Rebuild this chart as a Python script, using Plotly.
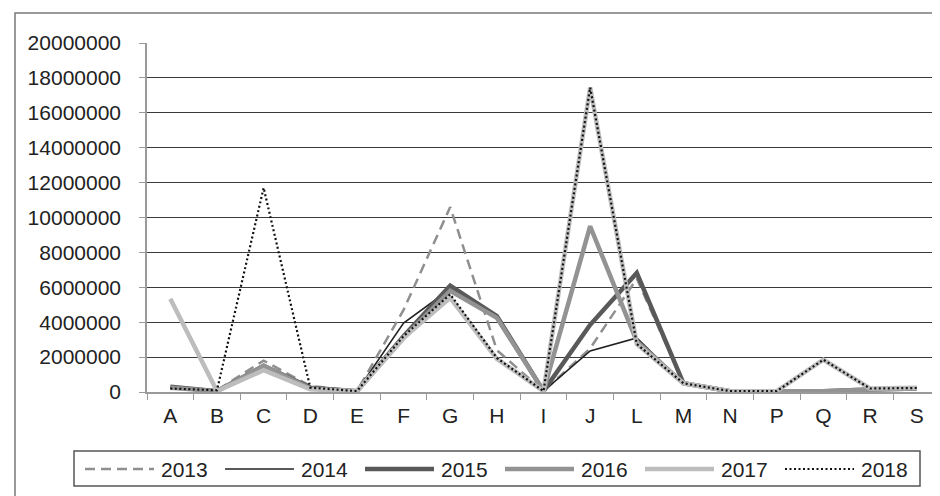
import plotly.graph_objects as go

categories = ["A", "B", "C", "D", "E", "F", "G", "H", "I", "J", "L", "M", "N", "P", "Q", "R", "S"]
years = ["2013", "2014", "2015", "2016", "2017", "2018"]

v2013 = [250000, 100000, 1800000, 350000, 50000, 4700000, 10600000, 2400000, 50000, 2500000, 6500000, 500000, 50000, 50000, 50000, 150000, 200000]
v2014 = [250000, 50000, 1400000, 200000, 50000, 3950000, 5900000, 4200000, 50000, 2350000, 3100000, 500000, 50000, 50000, 50000, 150000, 200000]
v2015 = [300000, 50000, 1500000, 250000, 50000, 3200000, 6100000, 4350000, 50000, 3850000, 6820000, 500000, 50000, 50000, 50000, 150000, 200000]
v2016 = [250000, 50000, 1500000, 200000, 50000, 3100000, 5800000, 4250000, 50000, 9500000, 2900000, 500000, 50000, 20000, 50000, 150000, 200000]
v2017 = [5350000, 50000, 1250000, 150000, 50000, 3100000, 5400000, 1900000, 50000, 17450000, 2750000, 500000, 50000, 50000, 1850000, 200000, 250000]
v2018 = [200000, 100000, 11700000, 250000, 50000, 3200000, 5600000, 1950000, 50000, 17450000, 2750000, 500000, 50000, 50000, 1850000, 200000, 230000]

series = [v2013, v2014, v2015, v2016, v2017, v2018]
styles = [
    dict(color="#8f8f8f", width=2.5, dash="10px,6px"),
    dict(color="#222222", width=1.6, dash="solid"),
    dict(color="#595959", width=4.5, dash="solid"),
    dict(color="#939393", width=4.5, dash="solid"),
    dict(color="#bdbdbd", width=4.5, dash="solid"),
    dict(color="#111111", width=2.2, dash="2px,2.5px"),
]

W, H = 940, 496
L, R, T, B = 139, 8, 35, 112
PW, PH = W - L - R, H - T - B
FONT = "Liberation Sans, Arial, sans-serif"
FS = 21


def px_x(px):
    return (px - L) / PW


def px_y(py):
    return (H - B - py) / PH


fig = go.Figure()
for name, vals, st in zip(years, series, styles):
    fig.add_trace(go.Scatter(x=categories, y=vals, mode="lines", name=name,
                             line=dict(color=st["color"], width=st["width"], dash=st["dash"]),
                             showlegend=False))

shapes = []
# outer chart border
shapes.append(dict(type="rect", xref="paper", yref="paper",
                   x0=px_x(7), x1=px_x(937), y0=px_y(492), y1=px_y(5),
                   line=dict(color="#7a7a7a", width=1.5), layer="below"))
# plot area right border
shapes.append(dict(type="line", xref="paper", yref="paper", x0=1, x1=1, y0=0, y1=1,
                   line=dict(color="#222222", width=1.2)))
# legend box
shapes.append(dict(type="rect", xref="paper", yref="paper",
                   x0=px_x(66), x1=px_x(912), y0=px_y(478), y1=px_y(443),
                   line=dict(color="#555555", width=1.5)))

annotations = []
leg_y = px_y(461)
for i, (name, st) in enumerate(zip(years, styles)):
    x0 = 77 + 140 * i
    shapes.append(dict(type="line", xref="paper", yref="paper",
                       x0=px_x(x0), x1=px_x(x0 + 69), y0=leg_y, y1=leg_y,
                       line=dict(color=st["color"], width=st["width"], dash=st["dash"])))
    annotations.append(dict(xref="paper", yref="paper", x=px_x(x0 + 74), y=leg_y,
                            text=name, showarrow=False, xanchor="left", yanchor="middle",
                            font=dict(family=FONT, size=FS, color="#222222")))

fig.update_layout(
    width=W, height=H,
    margin=dict(l=L, r=R, t=T, b=B, pad=0),
    paper_bgcolor="white", plot_bgcolor="white",
    font=dict(family=FONT, size=FS, color="#222222"),
    shapes=shapes, annotations=annotations,
    xaxis=dict(type="category", range=[-0.5, 16.5], showgrid=False, zeroline=False,
               showline=True, linecolor="#9a9a9a", linewidth=1.5,
               ticks="outside", tickson="boundaries", ticklen=6, tickcolor="#9a9a9a",
               tickfont=dict(family=FONT, size=FS, color="#222222"),
               ticklabelstandoff=4),
    yaxis=dict(range=[0, 20000000], dtick=2000000, tickformat="d",
               showgrid=True, gridcolor="#3a3a3a", gridwidth=1, zeroline=False,
               showline=True, linecolor="#9a9a9a", linewidth=1.5,
               ticks="outside", ticklen=6, tickcolor="#9a9a9a",
               tickfont=dict(family=FONT, size=FS, color="#222222"),
               ticklabelstandoff=14),
)

fig.write_html("out.html")
